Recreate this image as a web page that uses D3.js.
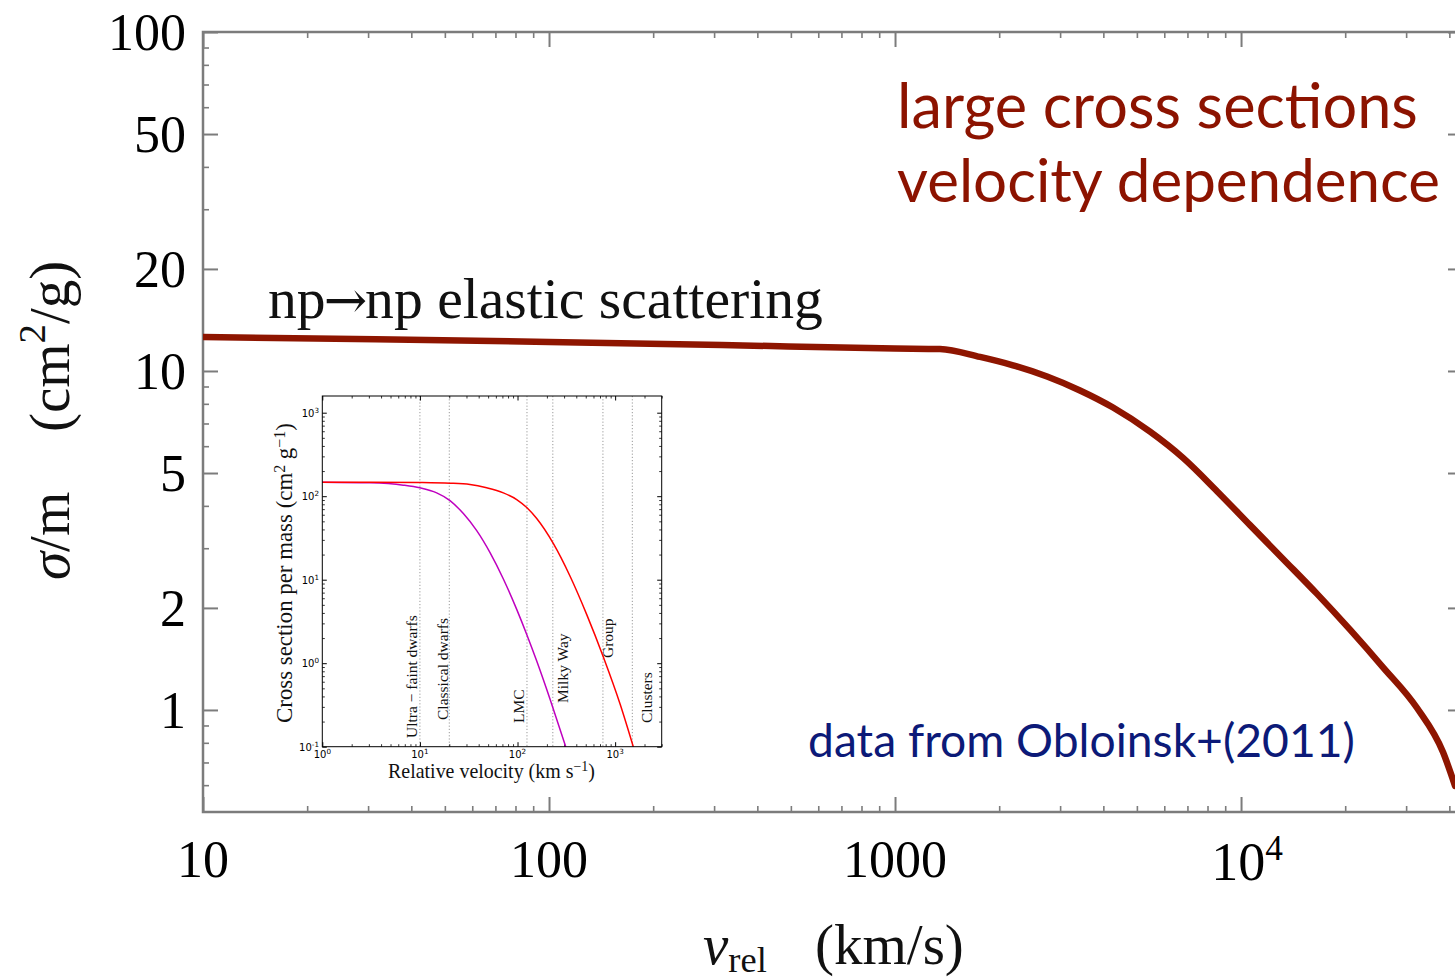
<!DOCTYPE html>
<html><head><meta charset="utf-8">
<script src="https://cdn.jsdelivr.net/npm/d3@7"></script>
<style>body{margin:0;background:#fff}svg{display:block}</style>
</head><body>
<svg id="c" width="1455" height="979"></svg>
<script>
// ---------- main chart data ----------
const mainVel   = [10, 31.6, 100, 316, 1000, 1349, 1761, 2193, 2750, 3424, 4267, 5458, 6799, 8522, 10617, 13225, 16585, 20654, 25727, 32265, 38359, 41548];
const mainSigma = [12.6, 12.4, 12.18, 11.93, 11.65, 11.61, 11.0, 10.39, 9.63, 8.76, 7.80, 6.62, 5.54, 4.42, 3.51, 2.79, 2.20, 1.725, 1.336, 1.013, 0.750, 0.597];
const mainXMajor = [10, 100, 1000, 10000];
const mainXLabels = ["10", "100", "1000", "10^4"];
const mainXMinor = [20,30,40,50,60,70,80,90,200,300,400,500,600,700,800,900,2000,3000,4000,5000,6000,7000,8000,9000,20000,30000,40000];
const mainYMajor = [1, 2, 5, 10, 20, 50, 100];
const mainYLabels = ["1", "2", "5", "10", "20", "50", "100"];
const mainYMinor = [0.6,0.7,0.8,0.9,3,4,6,7,8,9,30,40,60,70,80,90];

// ---------- inset data ----------
const insetMagVel = [1, 3.08, 6.76, 10, 14.85, 20.35, 27.88, 38.2, 52.3, 71.6, 98.1, 124.3, 157.3, 215.5, 311.9];
const insetMagSigma = [147.2, 144.5, 135.5, 125.9, 109.6, 88.7, 61.9, 38.7, 21.1, 10.2, 4.41, 2.21, 1.06, 0.370, 0.1];
const insetRedVel = [1, 3.08, 10, 20.35, 32.6, 48.3, 71.6, 98.1, 124.3, 157.3, 233.2, 345.5, 512, 759, 1124, 1535];
const insetRedSigma = [147.2, 147.2, 145.9, 143.2, 138.0, 125.9, 109.6, 91.2, 73.1, 54.0, 27.0, 11.0, 3.82, 1.18, 0.325, 0.1];
const insetMarkVel = [10, 20, 125, 230, 750, 1500];
const insetMarkNames = ["Ultra \u2212 faint dwarfs", "Classical dwarfs", "LMC", "Milky Way", "Group", "Clusters"];
const insetXMajor = [1, 10, 100, 1000];
const insetXLabels = ["0", "1", "2", "3"];
const insetYMajor = [0.1, 1, 10, 100, 1000];
const insetYLabels = ["-1", "0", "1", "2", "3"];

const svg = d3.select("#c");
const tickColor = "#7c7c7c";

// ---------- main scales ----------
const x = d3.scaleLog().domain([10, 43800]).range([203, 1463]);
const y = d3.scaleLog().domain([0.5, 100]).range([812, 32]);

function ticks(parent, gen, transform, vals, size, color, width) {
  parent.append("g").attr("transform", transform)
    .call(gen.tickValues(vals).tickSize(size).tickSizeOuter(0).tickFormat(""))
    .call(g => g.select(".domain").remove())
    .call(g => g.selectAll("text").remove())
    .call(g => g.selectAll("line").attr("stroke", color).attr("stroke-width", width));
}

ticks(svg, d3.axisBottom(x), "translate(0,812)", mainXMajor, -15, tickColor, 2);
ticks(svg, d3.axisBottom(x), "translate(0,812)", mainXMinor, -6, tickColor, 1.6);
ticks(svg, d3.axisTop(x), "translate(0,32)", mainXMajor, -15, tickColor, 2);
ticks(svg, d3.axisTop(x), "translate(0,32)", mainXMinor, -6, tickColor, 1.6);
ticks(svg, d3.axisLeft(y), "translate(203,0)", mainYMajor, -15, tickColor, 2);
ticks(svg, d3.axisLeft(y), "translate(203,0)", mainYMinor, -6, tickColor, 1.6);
ticks(svg, d3.axisRight(y), "translate(1463,0)", mainYMajor, -15, tickColor, 2);
ticks(svg, d3.axisRight(y), "translate(1463,0)", mainYMinor, -6, tickColor, 1.6);

svg.append("rect").attr("x", x.range()[0]).attr("y", y.range()[1])
  .attr("width", x.range()[1] - x.range()[0]).attr("height", y.range()[0] - y.range()[1])
  .attr("fill", "none").attr("stroke", tickColor).attr("stroke-width", 2.5);

// main tick labels
const serif = "'Liberation Serif', 'Times New Roman', serif";
svg.append("g").selectAll("text").data(mainYMajor).join("text")
  .attr("x", 186).attr("y", d => y(d)).attr("dy", "0.35em")
  .attr("text-anchor", "end").attr("font-family", serif).attr("font-size", 52)
  .attr("fill", "#000").text((d, i) => mainYLabels[i]);

const xl = svg.append("g").selectAll("text").data(mainXMajor).join("text")
  .attr("x", d => x(d)).attr("y", 877)
  .attr("text-anchor", "middle").attr("font-family", serif).attr("font-size", 52)
  .attr("fill", "#000");
xl.each(function(d, i) {
  const lab = mainXLabels[i];
  const t = d3.select(this);
  if (lab.includes("^")) {
    const [b, e] = lab.split("^");
    t.attr("dx", 6);
    t.append("tspan").attr("dy", 3).attr("font-size", "1.04em").text(b);
    t.append("tspan").attr("font-size", "0.68em").attr("dy", -20).text(e);
  } else t.text(lab);
});

// main curve
svg.append("clipPath").attr("id", "clipMain").append("rect")
  .attr("x", 203).attr("y", 32).attr("width", 1260).attr("height", 780);
const mainData = mainVel.map((v, i) => [v, mainSigma[i]]);
svg.append("path").datum(mainData)
  .attr("clip-path", "url(#clipMain)")
  .attr("fill", "none").attr("stroke", "#8e1500").attr("stroke-width", 6.5)
  .attr("stroke-linecap", "round").attr("stroke-linejoin", "round")
  .attr("d", d3.line().x(d => x(d[0])).y(d => y(d[1])).curve(d3.curveMonotoneX));

// fit helper
function fit(sel, w) {
  const n = sel.node();
  const cur = n.getComputedTextLength();
  const fs = parseFloat(sel.attr("font-size"));
  sel.attr("font-size", fs * w / cur);
  return fs * w / cur;
}

// annotations
const sans = "Lato, 'Open Sans', sans-serif";
const t1 = svg.append("text").attr("x", 897).attr("y", 128).attr("font-family", sans)
  .attr("font-size", 60).attr("fill", "#8c1300").text("large cross sections");
fit(t1, 521);
const t2 = svg.append("text").attr("x", 897).attr("y", 202).attr("font-family", sans)
  .attr("font-size", 60).attr("fill", "#8c1300").text("velocity dependence");
fit(t2, 543);

const tb = svg.append("text").attr("x", 808).attr("y", 757).attr("font-family", sans)
  .attr("font-size", 48).attr("fill", "#0c1a78").text("data from Obloinsk+(2011)");
fit(tb, 547);

const tn = svg.append("text").attr("x", 268).attr("y", 318).attr("font-family", serif)
  .attr("font-size", 48).attr("fill", "#111");
tn.append("tspan").text("np");
tn.append("tspan").attr("font-family", "'DejaVu Serif', serif").attr("font-size", "0.9em").attr("dx", -2).text("\u2192");
tn.append("tspan").attr("dx", -2).text("np elastic scattering");
fit(tn, 559);

// axis labels
const yl1 = svg.append("text").attr("transform", "translate(69,580) rotate(-90)")
  .attr("font-family", serif).attr("font-size", 57).attr("fill", "#111");
yl1.append("tspan").attr("font-style", "italic").text("\u03c3");
yl1.append("tspan").text("/m");
const yl2 = svg.append("text").attr("transform", "translate(69,432) rotate(-90)")
  .attr("font-family", serif).attr("font-size", 57).attr("fill", "#111");
yl2.append("tspan").text("(cm");
yl2.append("tspan").attr("font-size", "0.68em").attr("dy", -24).text("2");
yl2.append("tspan").attr("dy", 24).text("/g)");

const xlab = svg.append("text").attr("x", 703).attr("y", 964)
  .attr("font-family", serif).attr("font-size", 57).attr("fill", "#111");
xlab.append("tspan").attr("font-style", "italic").text("v");
xlab.append("tspan").attr("font-size", "0.64em").attr("dy", 8).text("rel");
svg.append("text").attr("x", 815).attr("y", 964)
  .attr("font-family", serif).attr("font-size", 57).attr("fill", "#111").text("(km/s)");

// ---------- inset ----------
const ix = d3.scaleLog().domain([1, 3000]).range([322.3, 661.7]);
const iy = d3.scaleLog().domain([0.1, 1585]).range([746.7, 396]);
const inset = svg.append("g");
const ibot = iy.range()[0], itop = iy.range()[1], ileft = ix.range()[0], iright = ix.range()[1];

// dotted marker lines
inset.append("g").selectAll("line").data(insetMarkVel).join("line")
  .attr("x1", d => ix(d)).attr("x2", d => ix(d)).attr("y1", itop).attr("y2", ibot)
  .attr("stroke", "#9a9a9a").attr("stroke-width", 1).attr("stroke-dasharray", "1.2,2");

// minor tick values from decades
const ixMinor = [], iyMinor = [];
for (let e = 0; e <= 3; e++) for (let m = 2; m <= 9; m++) { const v = m * Math.pow(10, e); if (v <= 3000) ixMinor.push(v); }
for (let e = -1; e <= 3; e++) for (let m = 2; m <= 9; m++) { const v = m * Math.pow(10, e); if (v <= 1585) iyMinor.push(v); }

ticks(inset, d3.axisBottom(ix), `translate(0,${ibot})`, insetXMajor, -4.5, "#000", 1);
ticks(inset, d3.axisBottom(ix), `translate(0,${ibot})`, ixMinor, -2.5, "#000", 0.8);
ticks(inset, d3.axisTop(ix), `translate(0,${itop})`, insetXMajor, -4.5, "#000", 1);
ticks(inset, d3.axisTop(ix), `translate(0,${itop})`, ixMinor, -2.5, "#000", 0.8);
ticks(inset, d3.axisLeft(iy), `translate(${ileft},0)`, insetYMajor, -4.5, "#000", 1);
ticks(inset, d3.axisLeft(iy), `translate(${ileft},0)`, iyMinor, -2.5, "#000", 0.8);
ticks(inset, d3.axisRight(iy), `translate(${iright},0)`, insetYMajor, -4.5, "#000", 1);
ticks(inset, d3.axisRight(iy), `translate(${iright},0)`, iyMinor, -2.5, "#000", 0.8);

// curves
const iline = d3.line().x(d => ix(d[0])).y(d => iy(d[1])).curve(d3.curveMonotoneX);
inset.append("path").datum(insetMagVel.map((v, i) => [v, insetMagSigma[i]]))
  .attr("fill", "none").attr("stroke", "#bf00bf").attr("stroke-width", 1.5).attr("d", iline);
inset.append("path").datum(insetRedVel.map((v, i) => [v, insetRedSigma[i]]))
  .attr("fill", "none").attr("stroke", "#ff0000").attr("stroke-width", 1.5).attr("d", iline);

inset.append("rect").attr("x", ileft).attr("y", itop).attr("width", iright - ileft).attr("height", ibot - itop)
  .attr("fill", "none").attr("stroke", "#000").attr("stroke-width", 1);

// inset tick labels
const dv = "'DejaVu Sans', sans-serif";
inset.append("g").selectAll("text").data(insetXMajor).join("text")
  .attr("x", d => ix(d)).attr("y", 758).attr("text-anchor", "middle")
  .attr("font-family", dv).attr("font-size", 10).attr("fill", "#000")
  .each(function(d, i) {
    const t = d3.select(this);
    t.append("tspan").text("10");
    t.append("tspan").attr("font-size", "0.72em").attr("dy", -4).text(insetXLabels[i]);
  });
inset.append("g").selectAll("text").data(insetYMajor).join("text")
  .attr("x", 319).attr("y", d => iy(d) + 4).attr("text-anchor", "end")
  .attr("font-family", dv).attr("font-size", 10).attr("fill", "#000")
  .each(function(d, i) {
    const t = d3.select(this);
    t.append("tspan").text("10");
    t.append("tspan").attr("font-size", "0.72em").attr("dy", -4).text(insetYLabels[i]);
  });

// marker labels
const markPos = [[417, 738], [448, 720], [524, 723], [568, 703], [613, 658], [652, 723]];
inset.append("g").selectAll("text").data(insetMarkNames).join("text")
  .attr("transform", (d, i) => `translate(${markPos[i][0]},${markPos[i][1]}) rotate(-90)`)
  .attr("font-family", serif).attr("font-size", 15.5).attr("fill", "#111").text(d => d);

// inset axis labels
const ixl = inset.append("text").attr("x", 491.5).attr("y", 778).attr("text-anchor", "middle")
  .attr("font-family", serif).attr("font-size", 18).attr("fill", "#111");
ixl.append("tspan").text("Relative velocity (km s");
ixl.append("tspan").attr("font-size", "0.7em").attr("dy", -7).text("\u22121");
ixl.append("tspan").attr("dy", 7).text(")");
fit(ixl, 207);

const iyl = inset.append("text").attr("transform", "translate(292,573) rotate(-90)").attr("text-anchor", "middle")
  .attr("font-family", serif).attr("font-size", 18).attr("fill", "#111");
iyl.append("tspan").text("Cross section per mass (cm");
iyl.append("tspan").attr("font-size", "0.7em").attr("dy", -7).text("2");
iyl.append("tspan").attr("dy", 7).text(" g");
iyl.append("tspan").attr("font-size", "0.7em").attr("dy", -7).text("\u22121");
iyl.append("tspan").attr("dy", 7).text(")");
fit(iyl, 300);
</script>
</body></html>
